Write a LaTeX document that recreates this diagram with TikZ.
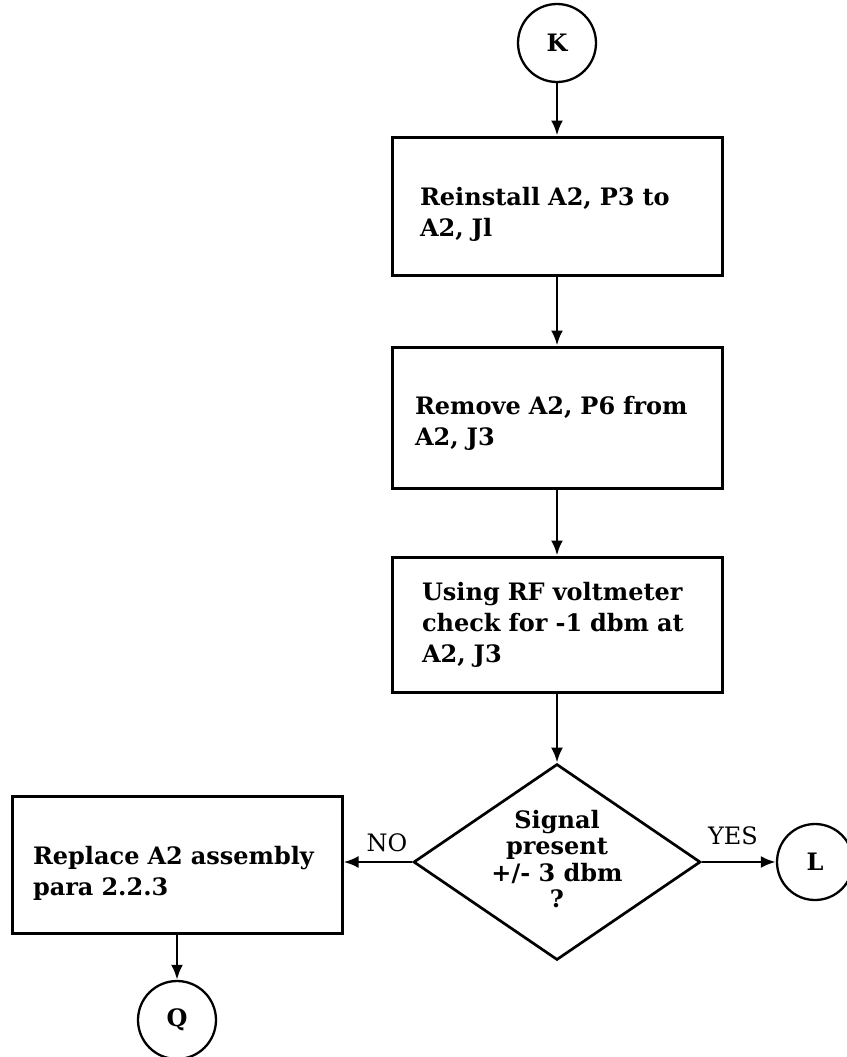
\documentclass[tikz,border=0pt]{standalone}
\usepackage{fontspec}
\setmainfont{DejaVu Serif}
\usetikzlibrary{shapes.geometric,arrows.meta}
\newcommand{\zerobox}[1]{\smash{\makebox[0pt]{\raisebox{-7pt}{\begin{tabular}{@{}c@{}}#1\end{tabular}}}}}
\begin{document}
\begin{tikzpicture}[x=1pt,y=-1pt,
  txt/.style={font=\fontsize{24}{31}\selectfont\bfseries},
  procbox/.style={txt, draw, line width=3pt, minimum height=138pt,
    minimum width=330pt, inner ysep=0pt, align=left},
  lower/.style={execute at begin node={\rule{0pt}{#1}}},
  conn/.style={circle, draw, line width=2.3pt, minimum size=78pt, inner sep=0pt,
    font=\fontsize{24}{25}\selectfont\bfseries},
  decision/.style={diamond, draw, line width=2.7pt, minimum width=287pt,
    minimum height=196pt, inner sep=0pt,
    font=\fontsize{24}{26.5}\selectfont\bfseries},
  flow/.style={line width=2.8pt, -{Latex[length=15pt,width=12pt]}},
  lbl/.style={font=\fontsize{24}{25}\selectfont}
]
\useasboundingbox (0,0) rectangle (846,1057);
\node[conn] (K) at (557,43) {K};
\node[procbox, inner xsep=28pt, text width=274pt, lower=34pt] (b1) at (557,206) {Reinstall A2, P3 to\\A2, Jl};
\node[procbox, inner xsep=23pt, text width=284pt, minimum height=141pt, lower=30pt] (b2) at (557,417.5) {Remove A2, P6 from\\A2, J3};
\node[procbox, inner xsep=30pt, text width=270pt, minimum height=135pt] (b3) at (557,624.5) {Using RF voltmeter\\check for -1 dbm at\\A2, J3};
\node[decision] (d) at (557,862) {\zerobox{Signal\\present\\+/- 3 dbm\\?}};
\node[procbox, inner xsep=21pt, text width=288pt, minimum height=137pt, lower=36pt] (b4) at (177,864.5) {Replace A2 assembly\\para 2.2.3};
\node[conn] (Q) at (177,1020) {Q};
\node[conn, minimum size=76pt] (L) at (815,862) {L};
\node[lbl] (no) at (387,843) {NO};
\node[lbl] (yes) at (733,836) {YES};
\draw[flow] (K) -- (b1);
\draw[flow] (b1) -- (b2);
\draw[flow] (b2) -- (b3);
\draw[flow] (b3) -- (d);
\draw[flow] (d.west) -- (d.west -| b4.east);
\draw[flow] (d.east) -- (L);
\draw[flow] (b4) -- (Q);
\end{tikzpicture}
\end{document}
